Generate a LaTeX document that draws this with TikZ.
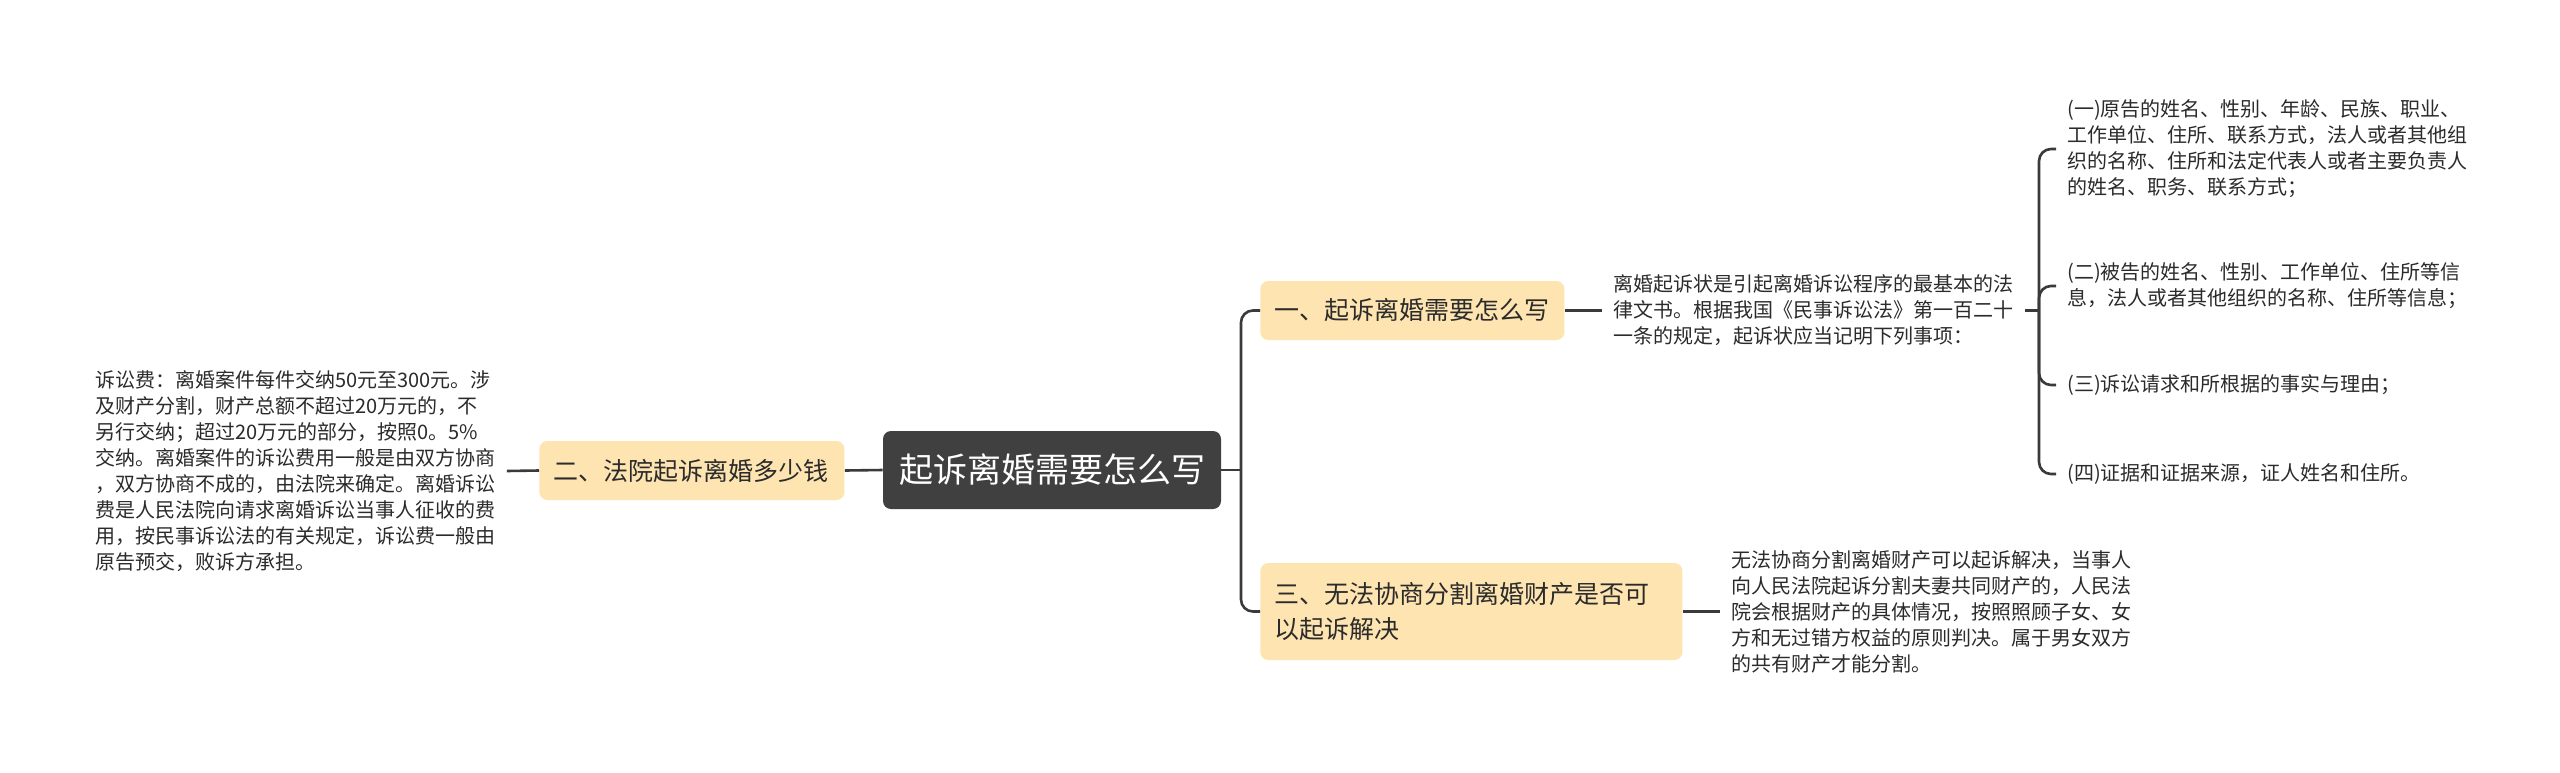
\documentclass[tikz,border=0pt]{standalone}
\usepackage{fontspec}
\setmainfont{Noto Sans CJK SC}
\definecolor{boxfill}{HTML}{FDE4B0}
\definecolor{rootfill}{HTML}{404040}
\definecolor{linec}{HTML}{3A3A3A}
\definecolor{txt}{HTML}{2B2B2B}
\begin{document}
\begin{tikzpicture}[x=0.5pt,y=-0.5pt,
 conn/.style={draw=linec,line width=1.3pt},
 curve/.style={conn,rounded corners=6pt},
 root/.style={fill=rootfill,rounded corners=4pt,text=white,font=\fontsize{17}{20}\selectfont,minimum width=169pt,minimum height=39pt,inner sep=0pt},
 topic/.style={fill=boxfill,rounded corners=4pt,text=txt,font=\fontsize{12.5}{17.5}\selectfont,align=left,inner xsep=7pt,inner ysep=0pt,anchor=west},
 leaf/.style={text=txt,font=\fontsize{10}{13}\selectfont,align=left,text width=200pt,inner xsep=5.5pt,inner ysep=0pt}
]
\fill[white] (0,0) rectangle (2560,772);
\useasboundingbox (0,0) rectangle (2560,772);

\node[root] (root) at (1052,470) {起诉离婚需要怎么写};
\node[topic,text width=138.5pt,minimum height=29.5pt] (n2) at (539,470.5) {二、法院起诉离婚多少钱};
\node[topic,text width=138pt,minimum height=29.5pt] (n1) at (1260,310.5) {一、起诉离婚需要怎么写};
\node[topic,text width=197pt,minimum height=48.5pt] (n3) at (1260,611.5) {三、无法协商分割离婚财产是否可\\以起诉解决};

\node[leaf,anchor=west] (t2) at (84,471) {诉讼费：离婚案件每件交纳50元至300元。涉\\及财产分割，财产总额不超过20万元的，不\\另行交纳；超过20万元的部分，按照0。5\%\\交纳。离婚案件的诉讼费用一般是由双方协商\\，双方协商不成的，由法院来确定。离婚诉讼\\费是人民法院向请求离婚诉讼当事人征收的费\\用，按民事诉讼法的有关规定，诉讼费一般由\\原告预交，败诉方承担。};

\node[leaf,anchor=west] (t1) at (1602,310.5) {离婚起诉状是引起离婚诉讼程序的最基本的法\\律文书。根据我国《民事诉讼法》第一百二十\\一条的规定，起诉状应当记明下列事项：};

\node[leaf,anchor=west] (i1) at (2056,149) {(一)原告的姓名、性别、年龄、民族、职业、\\工作单位、住所、联系方式，法人或者其他组\\织的名称、住所和法定代表人或者主要负责人\\的姓名、职务、联系方式；};
\node[leaf,anchor=west] (i2) at (2056,286) {(二)被告的姓名、性别、工作单位、住所等信\\息，法人或者其他组织的名称、住所等信息；};
\node[leaf,anchor=west] (i3) at (2056,385) {(三)诉讼请求和所根据的事实与理由；};
\node[leaf,anchor=west] (i4) at (2056,474) {(四)证据和证据来源，证人姓名和住所。};

\node[leaf,anchor=west] (t3) at (1720,611.5) {无法协商分割离婚财产可以起诉解决，当事人\\向人民法院起诉分割夫妻共同财产的，人民法\\院会根据财产的具体情况，按照照顾子女、女\\方和无过错方权益的原则判决。属于男女双方\\的共有财产才能分割。};

\draw[conn] (root.west) -- (n2.east);
\draw[conn] (n2.west) -- (t2.east);
\coordinate (j1) at (1241,470);
\draw[conn] (root.east) -- (j1);
\draw[curve] (j1) |- (n1.west);
\draw[curve] (j1) |- (n3.west);
\draw[conn] (n1.east) -- (t1.west);
\draw[conn] (n3.east) -- (t3.west);
\coordinate (j2) at (2039,310.5);
\draw[conn] (t1.east) -- (j2);
\draw[curve] (j2) |- (i1.west);
\draw[curve] (j2) |- (i2.west);
\draw[curve] (j2) |- (i3.west);
\draw[curve] (j2) |- (i4.west);
\end{tikzpicture}
\end{document}
